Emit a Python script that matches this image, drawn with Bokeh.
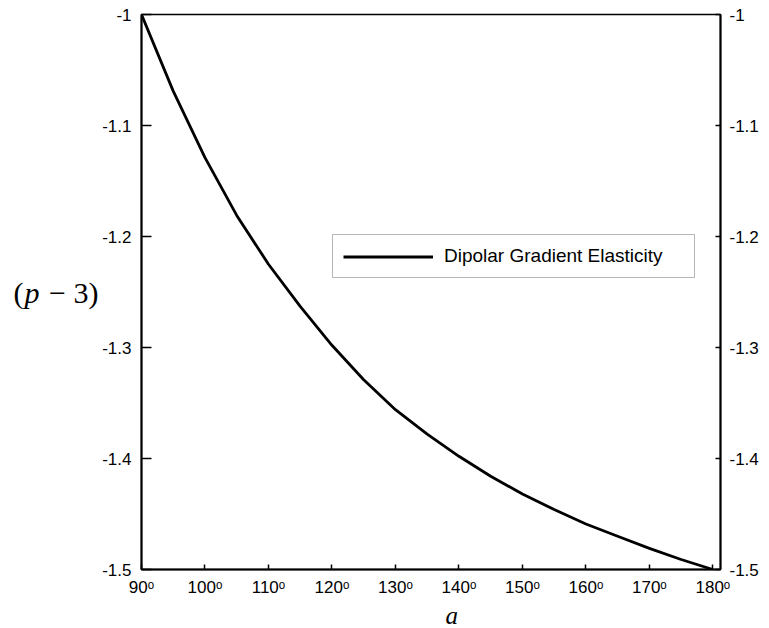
from bokeh.plotting import figure
from bokeh.models import Range1d, LinearAxis, FixedTicker, Legend, LegendItem, Title
from bokeh.embed import file_html
from bokeh.resources import INLINE

# data
angle_deg = [90, 95, 100, 105, 110, 115, 120, 125, 130, 135,
             140, 145, 150, 155, 160, 165, 170, 175, 180]
p_minus_3 = [-1.000, -1.069, -1.129, -1.181, -1.225, -1.263, -1.298, -1.329,
             -1.356, -1.378, -1.398, -1.416, -1.432, -1.446, -1.459, -1.470,
             -1.481, -1.491, -1.500]
x_ticks = [90, 100, 110, 120, 130, 140, 150, 160, 170, 180]
x_tick_labels = ["90ᵒ", "100ᵒ", "110ᵒ", "120ᵒ", "130ᵒ", "140ᵒ", "150ᵒ", "160ᵒ", "170ᵒ", "180ᵒ"]
y_ticks = [-1.5, -1.4, -1.3, -1.2, -1.1, -1.0]
y_tick_labels = ["-1.5", "-1.4", "-1.3", "-1.2", "-1.1", "-1"]
series_name = "Dipolar Gradient Elasticity"
x_label = "a"
y_label_parts = ["(", "p", "− 3)"]

p = figure(frame_width=579, frame_height=555,
           x_range=Range1d(90, 181.2), y_range=Range1d(-1.5, -1.0),
           output_backend="svg", toolbar_location=None,
           min_border_left=141, min_border_top=14, min_border_right=45,
           min_border_bottom=59, x_axis_location=None, y_axis_location=None)
p.xgrid.visible = False
p.ygrid.visible = False
p.outline_line_color = "black"
p.outline_line_width = 1.5
p.background_fill_color = "white"
p.border_fill_color = "white"

TICK_FONT = "Liberation Sans"
SERIF = "Liberation Serif"

def style_axis(ax, tick_in, standoff):
    ax.axis_line_color = "black"
    ax.axis_line_width = 2
    ax.major_tick_line_color = "black"
    ax.major_tick_line_width = 1.5
    ax.major_tick_in = tick_in
    ax.major_tick_out = 0
    ax.minor_tick_line_color = None
    ax.major_label_text_font = TICK_FONT
    ax.major_label_text_font_size = "17px"
    ax.major_label_text_color = "black"
    ax.major_label_standoff = standoff

xb = LinearAxis(ticker=FixedTicker(ticks=x_ticks),
                major_label_overrides={t: l for t, l in zip(x_ticks, x_tick_labels)})
style_axis(xb, 5, 8)
p.add_layout(xb, "below")

yl = LinearAxis(ticker=FixedTicker(ticks=y_ticks),
                major_label_overrides={t: l for t, l in zip(y_ticks, y_tick_labels)})
style_axis(yl, 10, 10)
p.add_layout(yl, "left")

# y-axis title pieces, stacked outward from the tick axis
for txt, style, stand in [(y_label_parts[2], "normal", 1),
                          (y_label_parts[1], "italic", 7),
                          (y_label_parts[0], "normal", -2)]:
    ax = LinearAxis(ticker=FixedTicker(ticks=[]), axis_label=txt,
                    axis_line_color=None, major_tick_line_color=None,
                    minor_tick_line_color=None, major_label_text_font_size="0px",
                    major_tick_in=0, major_tick_out=0, major_label_standoff=0,
                    axis_label_standoff=stand, axis_label_text_font=SERIF,
                    axis_label_text_font_style=style,
                    axis_label_text_font_size="30px",
                    axis_label_text_color="black",
                    axis_label_orientation="horizontal")
    p.add_layout(ax, "left")

yr = LinearAxis(ticker=FixedTicker(ticks=y_ticks),
                major_label_overrides={t: l for t, l in zip(y_ticks, y_tick_labels)})
style_axis(yr, 5, 9)
p.add_layout(yr, "right")

r = p.line(angle_deg, p_minus_3, line_color="black", line_width=2.8)

legend = Legend(items=[LegendItem(label=series_name, renderers=[r])],
                location=(191, 291), margin=0, padding=10,
                glyph_width=90, glyph_height=21, label_height=21,
                label_width=240, label_standoff=11,
                label_text_font=TICK_FONT, label_text_font_size="19px",
                label_text_color="black",
                border_line_color="#707070", border_line_width=1,
                background_fill_color="white", background_fill_alpha=1.0)
p.add_layout(legend)

p.add_layout(Title(text=x_label, align="left", offset=304, standoff=0,
                   text_font=SERIF, text_font_style="italic",
                   text_font_size="25px", text_color="black"), "below")

open("out.html", "w").write(file_html(p, INLINE))
